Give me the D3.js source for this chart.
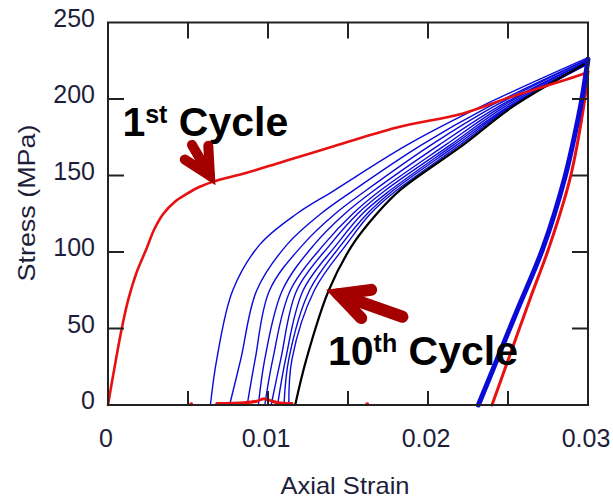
<!DOCTYPE html>
<html>
<head>
<meta charset="utf-8">
<script src="https://cdn.jsdelivr.net/npm/d3@7"></script>
<style>
  body { margin: 0; background: #fff; }
  svg { display: block; font-family: "Liberation Sans", Arial, sans-serif; }
</style>
</head>
<body>
<svg id="chart"></svg>
<script>
// ---- data (strain, stress MPa) ----
const xTickLabels = [0, 0.01, 0.02, 0.03];
const xTicks = [0.005, 0.01, 0.015, 0.02, 0.025];
const yTickLabels = [0, 50, 100, 150, 200, 250];
const yTicks = [50, 100, 150, 200];

const firstCycleLoad = [[0, 0], [0.00023, 14], [0.00086, 50], [0.00127, 69], [0.0018, 87], [0.0024, 102],
    [0.0029, 115], [0.00346, 125], [0.0042, 133], [0.00492, 138], [0.0057, 142.5], [0.00658, 146],
    [0.00867, 151.8], [0.01075, 158.4], [0.01263, 164.4], [0.0139, 168.4], [0.018, 181.2], [0.0222, 190.6],
    [0.0249, 200.4], [0.0298, 216.8], [0.030, 218]];
const firstCycleUnload = [[0.030, 218], [0.0298, 200], [0.0289, 149], [0.0276, 104], [0.0264, 70], [0.0252, 35], [0.0240, 0]];
const firstCycleBase = [[0.0068, 1], [0.0085, 1.5], [0.0093, 2.5], [0.0097, 4], [0.0101, 3], [0.0106, 1.5], [0.0115, 1]];
const firstCycleDots = [[0.0052, 0.5], [0.0162, 0.5]];

// cycles 2..9: stress levels 0, 30, 75, 105, 125, 140, 170, 195, end at 0.03
const blueLoads = [
    [[0.0064, 0], [0.0068, 30], [0.0078, 75], [0.0095, 105], [0.0118, 125], [0.0141, 140], [0.0187, 170], [0.0233, 195], [0.030, 227]],
    [[0.0076, 0], [0.0083, 30], [0.0093, 75], [0.0112, 105], [0.0133, 125], [0.0153, 140], [0.0196, 170], [0.0238, 195], [0.030, 226]],
    [[0.0087, 0], [0.0092, 30], [0.0101, 75], [0.0122, 105], [0.0142, 125], [0.0161, 140], [0.0202, 170], [0.0241, 195], [0.030, 226]],
    [[0.0094, 0], [0.0098, 30], [0.0109, 75], [0.0129, 105], [0.0148, 125], [0.0166, 140], [0.0207, 170], [0.0244, 195], [0.030, 225]],
    [[0.0098, 0], [0.0103, 30], [0.0114, 75], [0.0135, 105], [0.0153, 125], [0.0170, 140], [0.0211, 170], [0.0246, 195], [0.030, 225]],
    [[0.0102, 0], [0.0108, 30], [0.0118, 75], [0.0139, 105], [0.0156, 125], [0.0173, 140], [0.0214, 170], [0.0248, 195], [0.030, 224]],
    [[0.0106, 0], [0.0111, 30], [0.0122, 75], [0.0143, 105], [0.0159, 125], [0.0176, 140], [0.0216, 170], [0.0250, 195], [0.030, 224]],
    [[0.0110, 0], [0.0113, 30], [0.0126, 75], [0.0146, 105], [0.0162, 125], [0.0178, 140], [0.0218, 170], [0.0251, 195], [0.030, 223]],
    [[0.0113, 0], [0.0115, 30], [0.0129, 75], [0.0149, 105], [0.0164, 125], [0.0180, 140], [0.0220, 170], [0.0252, 195], [0.030, 223]]
];
const blueUnload = [[0.030, 226], [0.0297, 205], [0.0294, 188], [0.02856, 149], [0.0272, 103], [0.0255, 60], [0.02315, 0]];
const tenthCycleLoad = [[0.0117, 0], [0.0124, 30], [0.0138, 75], [0.0153, 105], [0.0168, 125], [0.0182, 140],
    [0.0222, 170], [0.0253, 195], [0.030, 224]];

// annotations: label anchor and arrow tail -> tip, in data units
const labels = [
    { main: "1", sup: "st", rest: " Cycle", at: [0.0009, 175.6] },
    { main: "10", sup: "th", rest: " Cycle", at: [0.01375, 26] }
];
const arrows = [
    { tail: [0.00525, 170], tip: [0.00656, 146.4], w: 10, head: 30 },
    { tail: [0.0184, 57.7], tip: [0.01398, 74], w: 12, head: 33 }
];

const width = 613, height = 500;
const margin = { top: 22.5, right: 25, bottom: 95, left: 108 };

const x = d3.scaleLinear().domain([0, 0.03]).range([margin.left, width - margin.right]);
const y = d3.scaleLinear().domain([0, 250]).range([height - margin.bottom, margin.top]);

const svg = d3.select("#chart").attr("width", width).attr("height", height);

const line = d3.line().x(d => x(d[0])).y(d => y(d[1])).curve(d3.curveCatmullRom.alpha(0.5));

const plot = svg.append("g").attr("fill", "none").attr("stroke-linejoin", "round").attr("stroke-linecap", "round");

plot.selectAll(".blue")
    .data(blueLoads)
    .join("path")
    .attr("class", "blue")
    .attr("stroke", "#0a0ad8")
    .attr("stroke-width", 1.4)
    .attr("d", line);

plot.append("path").attr("stroke", "#000").attr("stroke-width", 2.2).attr("d", line(tenthCycleLoad));

plot.append("path").attr("stroke", "#e81010").attr("stroke-width", 2.6).attr("d", line(firstCycleLoad));
plot.append("path").attr("stroke", "#e81010").attr("stroke-width", 3).attr("d", line(firstCycleBase));
plot.selectAll(".dot")
    .data(firstCycleDots)
    .join("circle")
    .attr("class", "dot")
    .attr("cx", d => x(d[0])).attr("cy", d => y(d[1])).attr("r", 2)
    .attr("fill", "#e81010").attr("stroke", "none");

plot.append("path").attr("stroke", "#e81010").attr("stroke-width", 3).attr("d", line(firstCycleUnload));
plot.append("path").attr("stroke", "#0a0ad8").attr("stroke-width", 5).attr("d", line(blueUnload));

// frame and inward ticks
const axis = svg.append("g").attr("stroke", "#222").attr("stroke-width", 2);
axis.append("rect")
    .attr("x", x(0)).attr("y", y(250))
    .attr("width", x(0.03) - x(0)).attr("height", y(0) - y(250))
    .attr("fill", "none");
axis.selectAll(".xb").data(xTicks).join("line").attr("class", "xb")
    .attr("x1", d => x(d)).attr("x2", d => x(d)).attr("y1", y(0)).attr("y2", y(0) - 14);
axis.selectAll(".xt").data(xTicks).join("line").attr("class", "xt")
    .attr("x1", d => x(d)).attr("x2", d => x(d)).attr("y1", y(250)).attr("y2", y(250) + 16);
axis.selectAll(".yl").data(yTicks).join("line").attr("class", "yl")
    .attr("x1", x(0)).attr("x2", x(0) + 16).attr("y1", d => y(d)).attr("y2", d => y(d));
axis.selectAll(".yr").data(yTicks).join("line").attr("class", "yr")
    .attr("x1", x(0.03)).attr("x2", x(0.03) - 16).attr("y1", d => y(d)).attr("y2", d => y(d));

const labelColor = "#1e1e3c";
svg.append("g")
    .attr("font-size", 25).attr("fill", labelColor).attr("text-anchor", "middle")
    .selectAll("text").data(xTickLabels).join("text")
    .attr("x", d => x(d) - 2).attr("y", y(0) + 42)
    .text(d => String(d));

svg.append("g")
    .attr("font-size", 25).attr("fill", labelColor).attr("text-anchor", "end")
    .selectAll("text").data(yTickLabels).join("text")
    .attr("x", x(0) - 13).attr("y", d => y(d) + 4)
    .text(d => String(d));

svg.append("text")
    .attr("x", 345).attr("y", 494).attr("text-anchor", "middle")
    .attr("font-size", 24).attr("fill", labelColor)
    .attr("textLength", 129).attr("lengthAdjust", "spacingAndGlyphs")
    .text("Axial Strain");

svg.append("text")
    .attr("transform", "translate(35,203) rotate(-90)")
    .attr("text-anchor", "middle")
    .attr("font-size", 24).attr("fill", labelColor)
    .attr("textLength", 157).attr("lengthAdjust", "spacingAndGlyphs")
    .text("Stress (MPa)");

// annotations
const note = svg.append("g").attr("font-weight", "bold").attr("fill", "#000");
labels.forEach(l => {
    const t = note.append("text").attr("x", x(l.at[0])).attr("y", y(l.at[1])).attr("font-size", 41);
    t.append("tspan").text(l.main);
    t.append("tspan").attr("font-size", 25).attr("dy", -13).text(l.sup);
    t.append("tspan").attr("dy", 13).text(l.rest);
});

const arrowColor = "#a40000";
arrows.forEach(a => {
    const tx = x(a.tail[0]), ty = y(a.tail[1]);
    const px = x(a.tip[0]), py = y(a.tip[1]);
    const ang = Math.atan2(ty - py, tx - px);
    const spread = 27 * Math.PI / 180;
    const g = svg.append("g").attr("stroke", arrowColor).attr("fill", "none").attr("stroke-width", a.w);
    const inset = a.w * 0.6;
    const ix = px + Math.cos(ang) * inset, iy = py + Math.sin(ang) * inset;
    g.append("line").attr("x1", tx).attr("y1", ty).attr("x2", ix).attr("y2", iy).attr("stroke-linecap", "round");
    const p1 = [ix + Math.cos(ang - spread) * a.head, iy + Math.sin(ang - spread) * a.head];
    const p2 = [ix + Math.cos(ang + spread) * a.head, iy + Math.sin(ang + spread) * a.head];
    g.append("path")
        .attr("d", `M${p1}L${ix},${iy}L${p2}`)
        .attr("stroke-linecap", "round").attr("stroke-linejoin", "miter").attr("stroke-miterlimit", 10);
});
</script>
</body>
</html>
